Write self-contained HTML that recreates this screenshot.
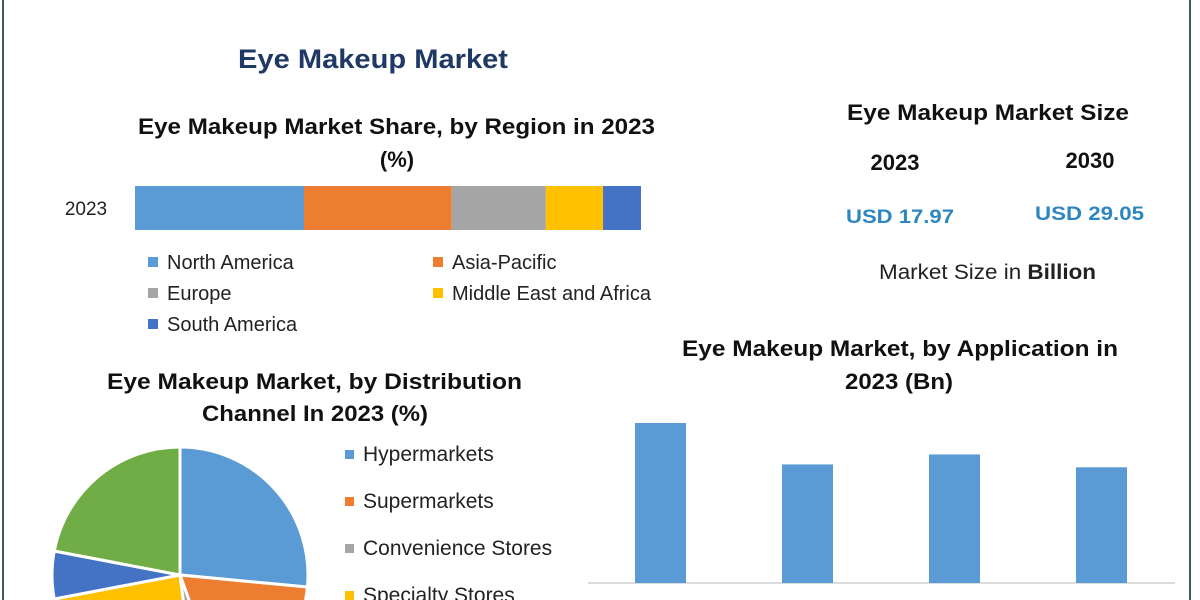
<!DOCTYPE html>
<html><head><meta charset="utf-8"><style>
body{margin:0;width:1200px;height:600px;background:#fff;overflow:hidden;font-family:"Liberation Sans",sans-serif;}
svg{display:block;overflow:hidden;}
svg text{font-family:"Liberation Sans",sans-serif;}
</style></head><body>
<svg width="1200" height="600" viewBox="0 0 1200 600">
<line x1="3" y1="0" x2="3" y2="600" stroke="#3f5a5a" stroke-width="2"/>
<line x1="1190" y1="0" x2="1190" y2="600" stroke="#3f5a5a" stroke-width="2"/>
<text x="238" y="68" font-size="27" font-weight="bold" fill="#1f3864" textLength="270" lengthAdjust="spacingAndGlyphs">Eye Makeup Market</text>
<text x="138" y="134" font-size="22" font-weight="bold" fill="#111" textLength="517" lengthAdjust="spacingAndGlyphs">Eye Makeup Market Share, by Region in 2023</text>
<text x="397" y="167" text-anchor="middle" font-size="22" font-weight="bold" fill="#111">(%)</text>
<text x="86" y="215" text-anchor="middle" font-size="19" fill="#222">2023</text>
<g id="stack"></g>
<g id="stackLegend"></g>

<text x="847" y="120" font-size="22" font-weight="bold" fill="#111" textLength="282" lengthAdjust="spacingAndGlyphs">Eye Makeup Market Size</text>
<text x="895" y="170" text-anchor="middle" font-size="22" font-weight="bold" fill="#111">2023</text>
<text x="1090" y="168" text-anchor="middle" font-size="22" font-weight="bold" fill="#111">2030</text>
<text x="846" y="223" font-size="19" font-weight="bold" fill="#2e86c1" textLength="108" lengthAdjust="spacingAndGlyphs">USD 17.97</text>
<text x="1035" y="220" font-size="19" font-weight="bold" fill="#2e86c1" textLength="109" lengthAdjust="spacingAndGlyphs">USD 29.05</text>
<text x="879" y="279" font-size="21" fill="#222" textLength="217" lengthAdjust="spacingAndGlyphs">Market Size in <tspan font-weight="bold">Billion</tspan></text>

<text x="107" y="389" font-size="22" font-weight="bold" fill="#111" textLength="415" lengthAdjust="spacingAndGlyphs">Eye Makeup Market, by Distribution</text>
<text x="202" y="421" font-size="22" font-weight="bold" fill="#111" textLength="226" lengthAdjust="spacingAndGlyphs">Channel In 2023 (%)</text>
<g id="pie"></g>
<g id="pieLegend"></g>

<text x="682" y="356" font-size="22" font-weight="bold" fill="#111" textLength="436" lengthAdjust="spacingAndGlyphs">Eye Makeup Market, by Application in</text>
<text x="845" y="389" font-size="22" font-weight="bold" fill="#111" textLength="108" lengthAdjust="spacingAndGlyphs">2023 (Bn)</text>
<line x1="588" y1="583" x2="1175" y2="583" stroke="#d0d0d0" stroke-width="1.5"/>
<g id="bars"></g>
</svg>
<script>
const NS="http://www.w3.org/2000/svg";
const regions=["North America","Asia-Pacific","Europe","Middle East and Africa","South America"];
const regionShare=[33.4,29.2,18.6,11.3,7.5];
const regionColors=["#5b9bd5","#ed7d31","#a5a5a5","#ffc000","#4472c4"];
const channels=["Hypermarkets","Supermarkets","Convenience Stores","Specialty Stores","Online","Others"];
const channelShare=[26.5,18,3.5,24,6,22];
const channelColors=["#5b9bd5","#ed7d31","#a5a5a5","#ffc000","#4472c4","#70ad47"];
const apps=["App A","App B","App C","App D"];
const appValues=[5.6,4.15,4.5,4.05];
function mk(tag,attrs,parent){const e=document.createElementNS(NS,tag);for(const k in attrs)e.setAttribute(k,attrs[k]);parent.appendChild(e);return e;}
const sg=document.getElementById('stack');
const sx0=135,sw=506,total=regionShare.reduce((a,b)=>a+b,0);
let cx=sx0;
regionShare.forEach((v,i)=>{const w=v/total*sw;
 const r=mk('rect',{x:cx,y:186,width:w,height:44,fill:regionColors[i]},sg);
 
 
 cx+=w;});
const lg=document.getElementById('stackLegend');
regions.forEach((n,i)=>{const col=i%2,row=Math.floor(i/2);const x=col?438:153,y=262+row*31;
 const g=mk('g',{},lg);
 
 
 mk('rect',{x:x-5,y:y-5,width:10,height:10,fill:regionColors[i]},g);
 const t=mk('text',{x:x+14,y:y+7,'font-size':20,fill:'#222'},g);t.textContent=n;});
const pg=document.getElementById('pie');
const pcx=180,pcy=575,pr=128;const ptot=channelShare.reduce((a,b)=>a+b,0);
let a0=0;
channelShare.forEach((v,i)=>{const a1=a0+v/ptot*2*Math.PI;
 const x0=pcx+pr*Math.sin(a0),y0=pcy-pr*Math.cos(a0),x1=pcx+pr*Math.sin(a1),y1=pcy-pr*Math.cos(a1);
 const p=mk('path',{d:`M${pcx},${pcy}L${x0},${y0}A${pr},${pr} 0 ${a1-a0>Math.PI?1:0} 1 ${x1},${y1}Z`,fill:channelColors[i],stroke:'#fff','stroke-width':3},pg);
 
 
 a0=a1;});
const plg=document.getElementById('pieLegend');
channels.forEach((n,i)=>{const y=454+i*47;const g=mk('g',{},plg);
 
 
 mk('rect',{x:345,y:y-4,width:9,height:9,fill:channelColors[i]},g);
 const t=mk('text',{x:363,y:y+7,'font-size':21,fill:'#222'},g);t.textContent=n;});
const bg=document.getElementById('bars');
const base=583,scale=160/5.6,firstX=635,step=147,bw=51;
appValues.forEach((v,i)=>{const h=v*scale;
 const r=mk('rect',{x:firstX+i*step,y:base-h,width:bw,height:h,fill:'#5b9bd5'},bg);
 
 });
</script>
</body></html>
